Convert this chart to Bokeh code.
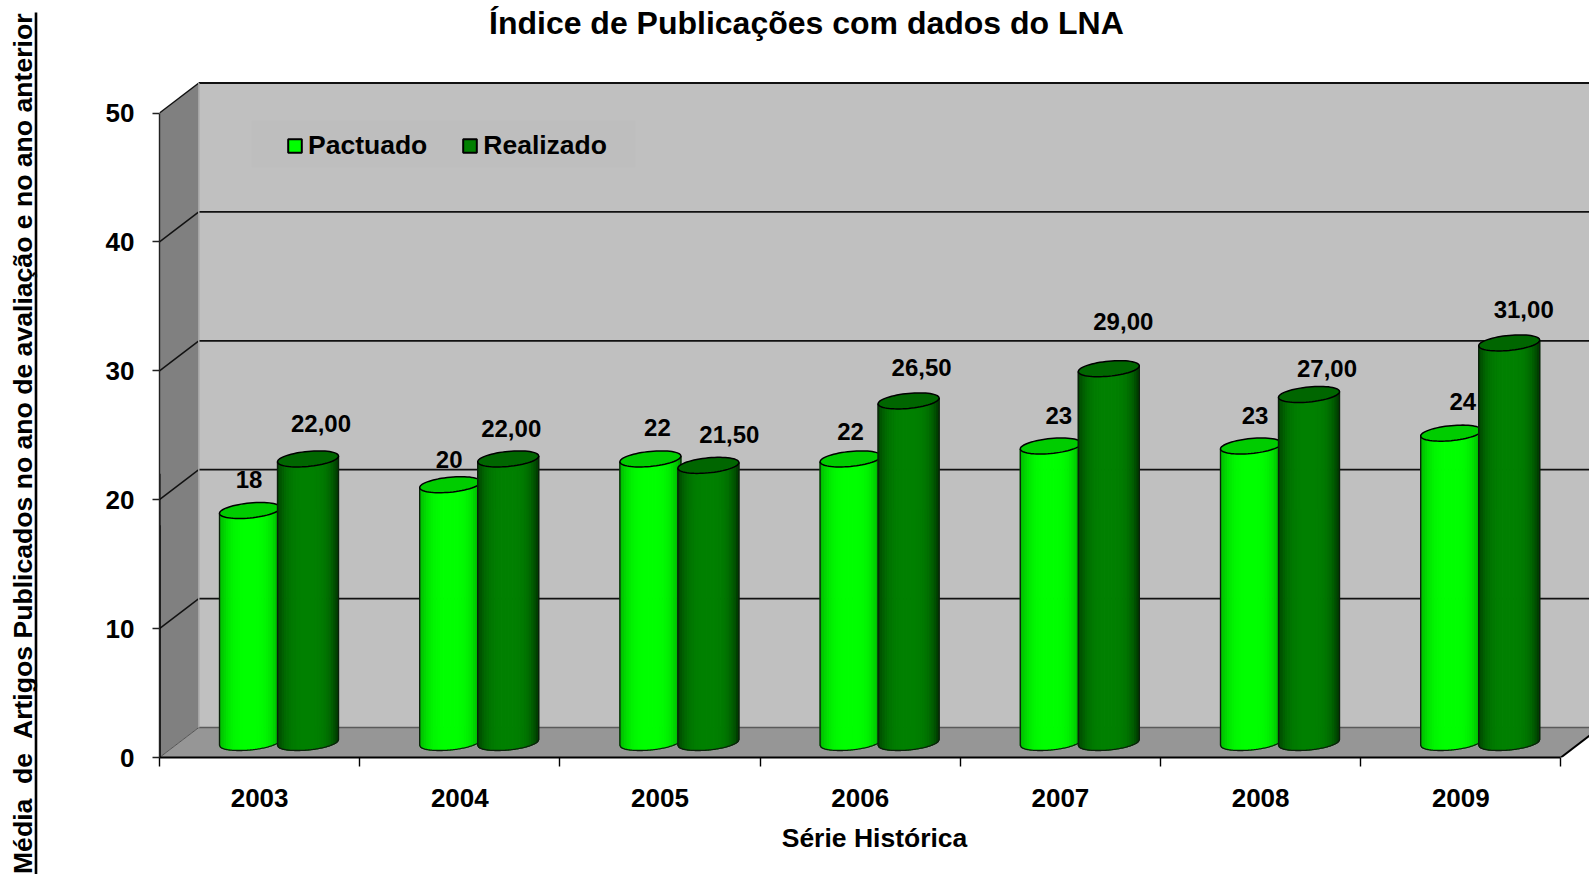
import math
from bokeh.plotting import figure
from bokeh.models import (ColumnDataSource, Range1d, FixedTicker, Legend, LegendItem,
                          BoxAnnotation)
from bokeh.core.properties import value
from bokeh.embed import file_html
from bokeh.resources import INLINE

# ---- data ----
anos = ["2003", "2004", "2005", "2006", "2007", "2008", "2009"]
pactuado = [18, 20, 22, 22, 23, 23, 24]
realizado = [22.0, 22.0, 21.5, 26.5, 29.0, 27.0, 31.0]
pactuado_txt = ["18", "20", "22", "22", "23", "23", "24"]
realizado_txt = ["22,00", "22,00", "21,50", "26,50", "29,00", "27,00", "31,00"]
y_ticks = [0, 10, 20, 30, 40, 50]

titulo = "Índice de Publicações com dados do LNA"
eixo_x = "Série Histórica"
eixo_y = "Média\u00a0 de\u00a0 Artigos Publicados no ano de avaliação e no ano anterior"

# ---- layout (pixels) ----
PX_CAT = 200.2            # pixels per category
PX_VAL = 12.89            # pixels per value unit
UX, UY = 1 / PX_CAT, 1 / PX_VAL
SIDE_W = 44               # width of the overlay strip that carries the y title
FRAME_L, FRAME_B, FRAME_T, PAGE_W, PAGE_H = 159, 757, 46, 1589, 874
DX, DY = 39.3 * UX, 30 * UY          # depth of the 3D box
CX1, CX2 = 90.5 * UX, 148.5 * UX     # cylinder centres inside a category
A, B, K = 30.5, 7.5, 2.85            # cylinder half width, ellipse half height, tilt
N = 26

label_off_p = [(-1, -31), (-1, -25), (7, -31), (0, -27), (8, -31), (4, -31), (11.6, -32)]
label_off_r = [(13, -35), (3, -30), (21, -30.5), (13, -33), (14.5, -47), (18, -26), (14.5, -33.6)]

x_end = (PAGE_W - FRAME_L) * UX
y_end = (FRAME_B - FRAME_T) * UY

p = figure(width=PAGE_W, height=PAGE_H, output_backend="svg", toolbar_location=None,
           x_range=Range1d(0, x_end), y_range=Range1d(0, y_end),
           min_border_left=FRAME_L, min_border_right=0,
           min_border_top=FRAME_T, min_border_bottom=PAGE_H - FRAME_B,
           background_fill_color="white", border_fill_color="white",
           outline_line_color=None, title=titulo)
p.grid.visible = False
p.title.text_font = "Liberation Sans"
p.title.text_font_size = "32px"
p.title.text_font_style = "bold"
p.title.text_color = "black"
p.title.align = "left"
p.title.offset = 329.5
p.title.standoff = 7
p.title.vertical_align = "top"

WALL, SIDE, FLOOR = "#C0C0C0", "#808080", "#969696"
far = 12.0
# back wall, side wall, floor
p.patch([DX, far, far, DX], [DY, DY, 50 + DY, 50 + DY], fill_color=WALL, line_color=None)
p.patch([0, DX, DX, 0], [0, DY, 50 + DY, 50], fill_color=SIDE, line_color=None)
p.patch([0, 7, 7 + DX, far, DX], [0, 0, DY, DY, DY], fill_color=FLOOR, line_color=None)
# wall grid
inner = [t for t in y_ticks if 0 < t]
p.segment(x0=[DX] * len(inner), y0=[t + DY for t in inner], x1=[far] * len(inner),
          y1=[t + DY for t in inner], line_color="#111111", line_width=1.8)
p.segment(x0=[0] * len(inner), y0=inner, x1=[DX] * len(inner),
          y1=[t + DY for t in inner], line_color="#111111", line_width=1.5)
p.segment(x0=[DX], y0=[DY], x1=[far], y1=[DY], line_color="#5a5a5a", line_width=1.6)
p.segment(x0=[0], y0=[0], x1=[DX], y1=[DY], line_color="#555555", line_width=1)
p.segment(x0=[DX], y0=[DY], x1=[DX], y1=[50 + DY], line_color="#A6A6A6", line_width=1.5)
p.segment(x0=[7], y0=[0], x1=[7 + DX], y1=[DY], line_color="black", line_width=2)


def shade(base, u):
    s = abs(u)
    f = 1 - (1 - base[1]) * (s ** 3.2)
    if u > 0:
        f -= 0.08 * s ** 6
    return "#%02x%02x%02x" % (0, int(round(base[0] * f)), 0)


def cylinder(cx, v, base, top_color):
    sx, sy, col = [], [], []
    midy = DY / 2
    for i in range(N):
        u0, u1 = -1 + 2 * i / N, -1 + 2 * (i + 1) / N
        xx, yy = [], []
        us = [u0 + (u1 - u0) * j / 3 for j in range(4)]
        for u in us:
            xx.append(cx + A * u * UX)
            yy.append(v + midy + (K * u - B * math.sqrt(max(0, 1 - u * u))) * UY)
        for u in reversed(us):
            xx.append(cx + A * u * UX)
            yy.append(midy + (K * u - B * math.sqrt(max(0, 1 - u * u))) * UY)
        sx.append(xx); sy.append(yy)
        c = shade(base, (u0 + u1) / 2)
        col.append(c)
    p.patches(sx, sy, fill_color=col, line_color=col, line_width=1.1)
    # outline of the body
    us = [-1 + 2 * j / 60 for j in range(61)]
    ox = [cx - A * UX] + [cx + A * u * UX for u in us] + [cx + A * UX]
    oy = [v + midy - K * UY] + [midy + (K * u - B * math.sqrt(max(0, 1 - u * u))) * UY for u in us] + [v + midy + K * UY]
    p.line(ox, oy, line_color="#0b1f0b", line_width=1.3)
    # top ellipse
    ts = [2 * math.pi * j / 64 for j in range(65)]
    ex = [cx + A * math.cos(t) * UX for t in ts]
    ey = [v + midy + (K * math.cos(t) + B * math.sin(t)) * UY for t in ts]
    p.patch(ex, ey, fill_color=top_color, line_color="black", line_width=1.5)


for i in range(len(anos)):
    cylinder(i + CX1, pactuado[i], (255, 0.70), "#00CC00")
    cylinder(i + CX2, realizado[i], (128, 0.50), "#006600")

# data labels
lx, ly, lt, ox, oy = [], [], [], [], []
for i in range(len(anos)):
    lx += [i + CX1, i + CX2]
    ly += [pactuado[i] + DY / 2, realizado[i] + DY / 2]
    lt += [pactuado_txt[i], realizado_txt[i]]
    ox += [label_off_p[i][0], label_off_r[i][0]]
    oy += [label_off_p[i][1], label_off_r[i][1]]
src = ColumnDataSource(dict(x=lx, y=ly, t=lt, ox=ox, oy=oy))
p.text("x", "y", text="t", x_offset="ox", y_offset="oy", source=src, text_align="center",
       text_baseline="middle", text_font=value("Liberation Sans"), text_font_style="bold",
       text_font_size="24px", text_color="black")

# axes
xa = p.xaxis[0]
xa.bounds = (0, 7)
xa.ticker = FixedTicker(ticks=[i + 0.5 for i in range(7)], minor_ticks=list(range(8)))
xa.major_label_overrides = {i + 0.5: anos[i] for i in range(7)}
xa.major_tick_out = 0
xa.major_tick_in = 0
xa.minor_tick_out = 9
xa.minor_tick_in = 0
xa.minor_tick_line_color = "black"
xa.minor_tick_line_width = 1.4
xa.axis_line_color = "black"
xa.axis_line_width = 2.2
xa.major_label_standoff = 22
xa.major_label_text_font = "Liberation Sans"
xa.major_label_text_font_style = "bold"
xa.major_label_text_font_size = "26px"
xa.major_label_text_color = "black"
xa.axis_label = eixo_x
xa.axis_label_text_font = "Liberation Sans"
xa.axis_label_text_font_style = "bold"
xa.axis_label_text_font_size = "26.5px"
xa.axis_label_text_color = "black"
xa.axis_label_standoff = 13

ya = p.yaxis[0]
ya.bounds = (0, 50)
ya.ticker = FixedTicker(ticks=y_ticks)
ya.major_tick_out = 7
ya.major_tick_in = 0
ya.minor_tick_out = 0
ya.minor_tick_in = 0
ya.major_tick_line_color = "#222222"
ya.major_tick_line_width = 1.4
ya.axis_line_color = "#222222"
ya.axis_line_width = 1.4
ya.major_label_standoff = 18
ya.major_label_text_font = "Liberation Sans"
ya.major_label_text_font_style = "bold"
ya.major_label_text_font_size = "26px"
ya.major_label_text_color = "black"

# faint panel behind the legend
p.add_layout(BoxAnnotation(left=92, right=476, bottom=590, top=637,
                           left_units="screen", right_units="screen",
                           bottom_units="screen", top_units="screen",
                           fill_color="#BEBEBE", fill_alpha=1, line_color=None))

# legend (its two marks sit outside the visible range; they only feed the swatches)
r1 = p.vbar(x=[-5], top=[pactuado[0]], width=0.1, fill_color="#00FF00", line_color="black", line_width=2)
r2 = p.vbar(x=[-5], top=[realizado[0]], width=0.1, fill_color="#008000", line_color="black", line_width=2)
leg = Legend(items=[LegendItem(label="Pactuado", renderers=[r1]),
                    LegendItem(label="Realizado", renderers=[r2])],
             orientation="horizontal", location=(127, 596), margin=0, padding=8,
             spacing=34, label_standoff=5, glyph_width=17, glyph_height=17,
             background_fill_alpha=0, border_line_color=None, label_text_font="Liberation Sans",
             label_text_font_style="bold", label_text_font_size="26.5px",
             label_text_color="black")
p.add_layout(leg)

# overlay strip at the left: rotated y title with its underline, in page pixels
side = figure(width=SIDE_W, height=PAGE_H, output_backend="svg", toolbar_location=None,
              x_range=Range1d(0, SIDE_W), y_range=Range1d(0, PAGE_H),
              x_axis_type=None, y_axis_type=None, min_border=0,
              outline_line_color=None, background_fill_color="white", border_fill_color="white",
              styles={"position": "absolute", "left": "0px", "top": "0px"})
side.grid.visible = False
side.text(x=[22.5], y=[PAGE_H - 12], text=[eixo_y], angle=math.pi / 2, text_align="right",
          text_baseline="alphabetic", text_font=value("Liberation Sans"),
          text_font_style="bold", text_font_size="26.6px", text_color="black")
side.segment(x0=[35.5], y0=[0], x1=[35.5], y1=[PAGE_H - 12], line_color="black", line_width=2.6)

open("out.html", "w").write(file_html([p, side], INLINE))
